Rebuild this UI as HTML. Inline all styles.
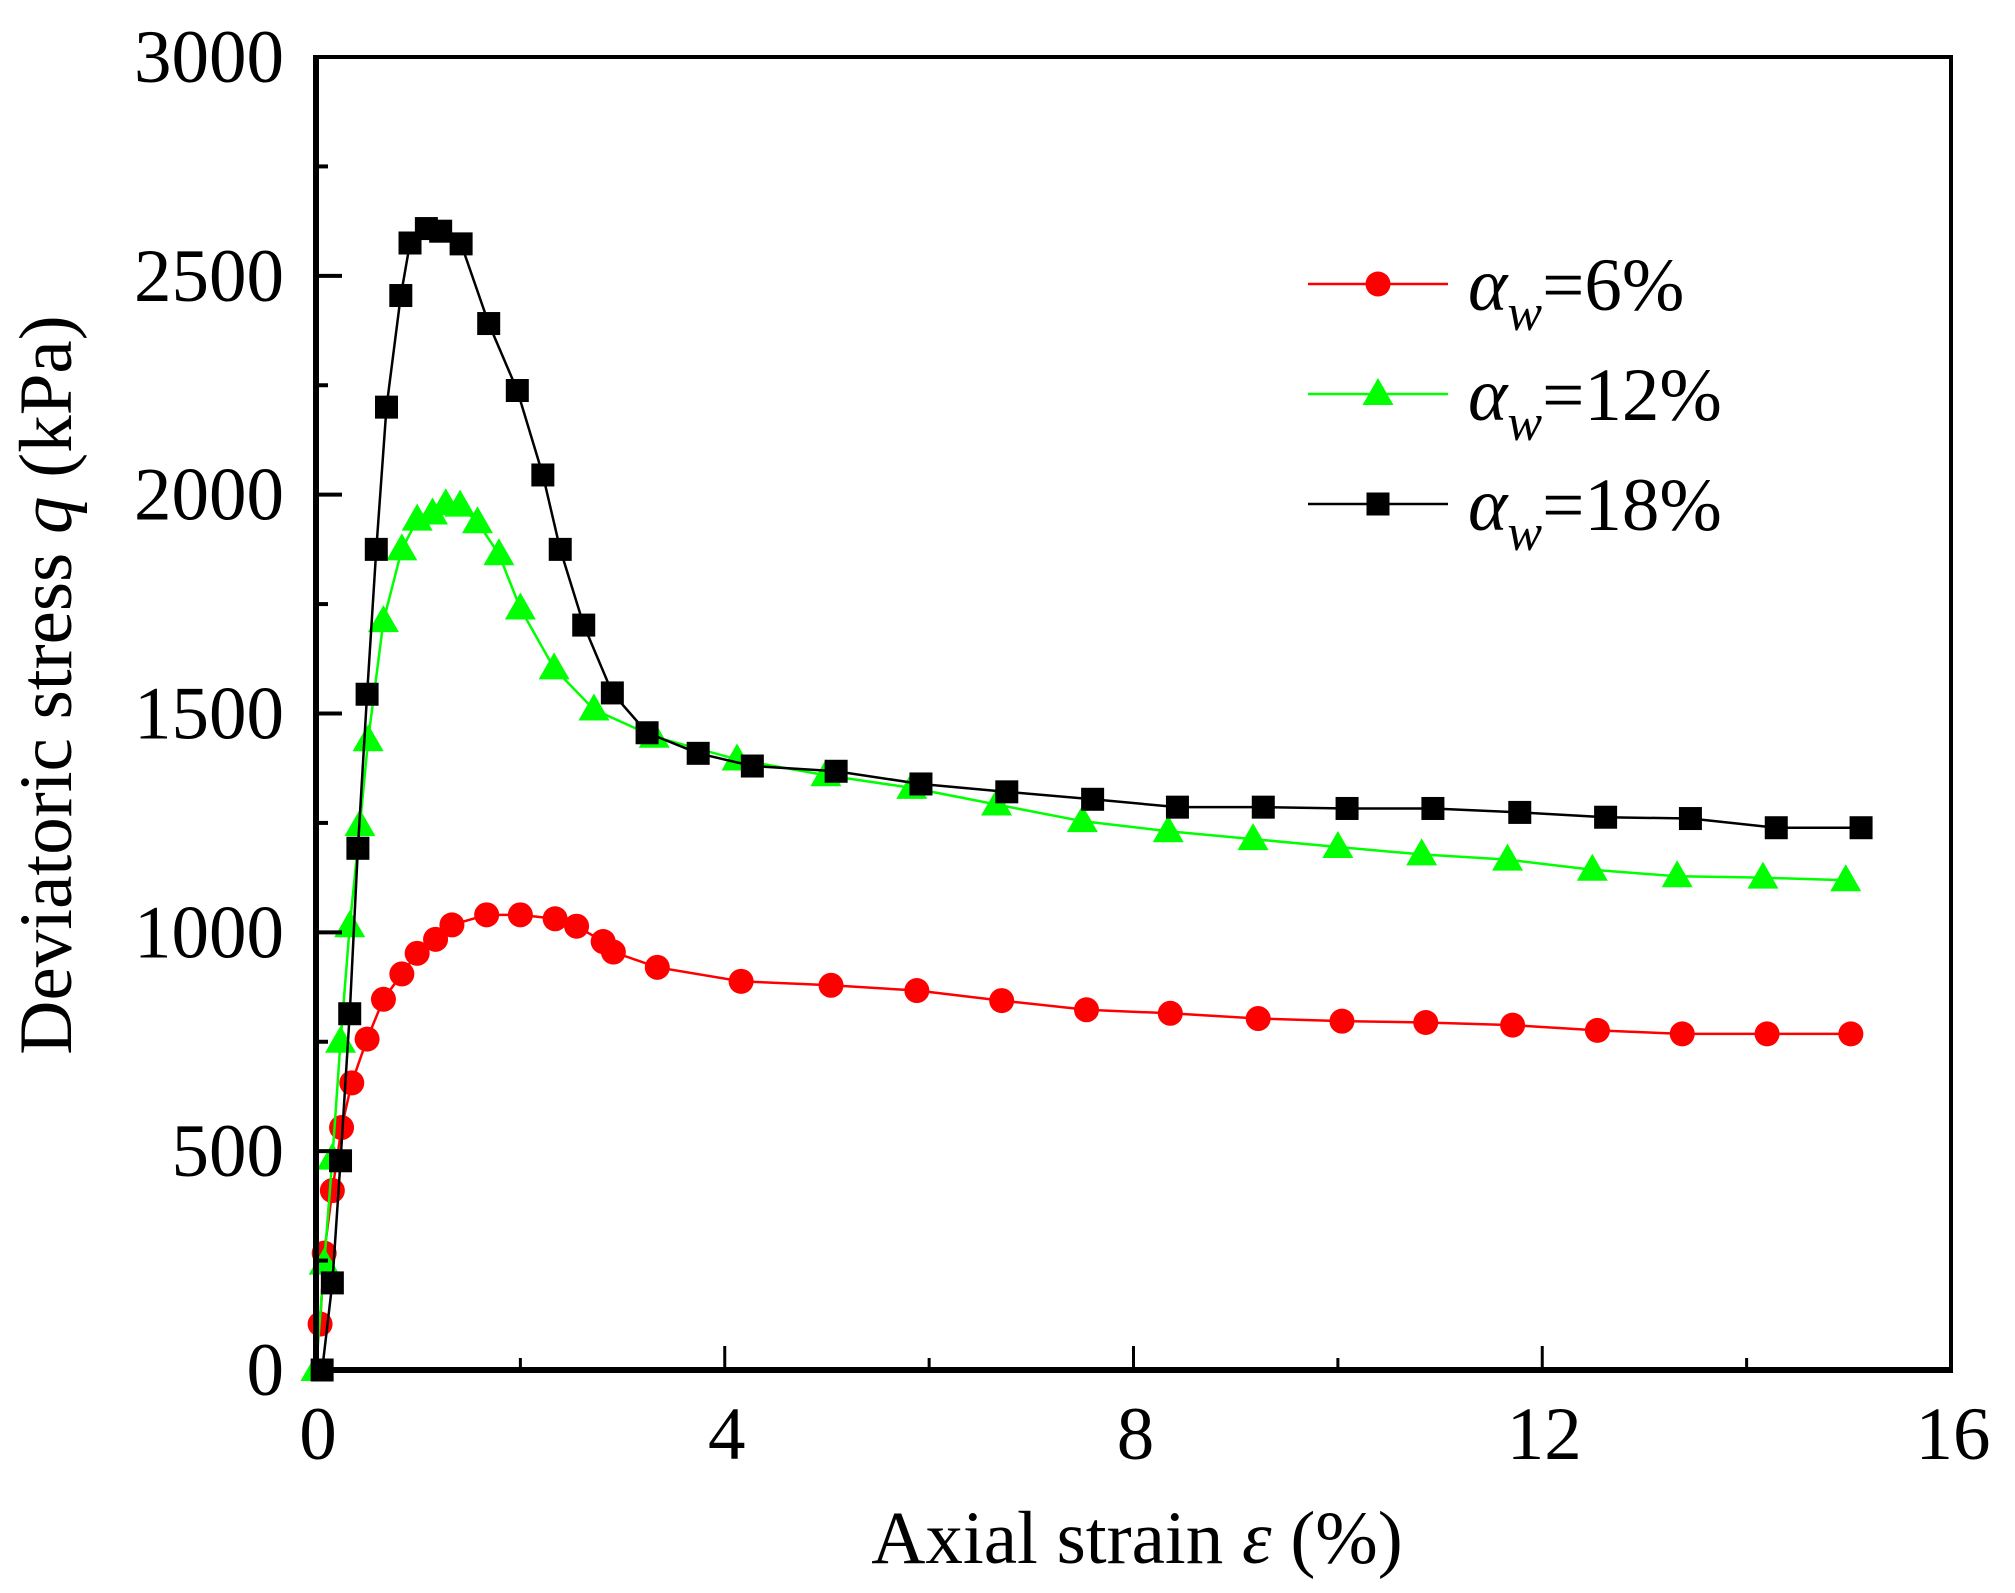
<!DOCTYPE html>
<html><head><meta charset="utf-8"><style>
html,body{margin:0;padding:0;background:#fff;}
svg{display:block;}
svg text, svg tspan{font-family:"Liberation Serif","Noto Serif CJK SC","DejaVu Serif",serif;fill:#000;}
</style></head><body>
<svg id="chart" width="2015" height="1593" viewBox="0 0 2015 1593" xmlns="http://www.w3.org/2000/svg">
<g id="series-layer"></g>
<g id="axes-layer"></g>
<text x="71" y="685" font-size="75" text-anchor="middle" transform="rotate(-90 71 685)">Deviatoric stress <tspan font-style="italic">q</tspan> (kPa)</text>
<text x="1137" y="1563" font-size="75" text-anchor="middle">Axial strain <tspan font-style="italic">ε</tspan> (%)</text>
<g id="legend"></g>
</svg>
<script>
const xTicks = [0, 4, 8, 12, 16];
const yTicks = [0, 500, 1000, 1500, 2000, 2500, 3000];
const seriesNames = ['αw=6%', 'αw=12%', 'αw=18%'];
const legendNums = ['6%', '12%', '18%'];
const x6 = [0.04,0.08,0.16,0.25,0.35,0.5,0.66,0.84,0.99,1.17,1.33,1.67,2.0,2.34,2.55,2.81,2.91,3.34,4.16,5.04,5.88,6.71,7.54,8.36,9.22,10.04,10.86,11.71,12.54,13.37,14.2,15.02];
const y6 = [105,267,410,554,656,756,847,905,952,984,1017,1040,1040,1031,1014,979,955,920,888,879,867,844,823,815,803,797,794,788,776,768,768,768];
const x12 = [0,0.08,0.16,0.24,0.33,0.43,0.51,0.66,0.84,0.99,1.14,1.27,1.41,1.58,1.79,2.0,2.33,2.72,3.31,4.12,4.99,5.83,6.66,7.5,8.34,9.17,10.0,10.82,11.66,12.49,13.32,14.16,14.97];
const y12 = [0,243,483,750,1014,1245,1439,1711,1875,1943,1957,1978,1975,1937,1864,1740,1603,1509,1447,1395,1359,1330,1292,1254,1231,1213,1195,1178,1166,1143,1128,1125,1119];
const x18 = [0.06,0.16,0.24,0.33,0.41,0.5,0.59,0.69,0.83,0.92,1.08,1.22,1.42,1.69,1.97,2.22,2.39,2.62,2.9,3.24,3.74,4.27,5.09,5.92,6.76,7.6,8.43,9.27,10.09,10.93,11.78,12.62,13.45,14.29,15.12];
const y18 = [0,199,478,814,1192,1544,1875,2200,2455,2575,2608,2602,2573,2391,2238,2045,1875,1702,1547,1456,1409,1380,1368,1339,1321,1304,1286,1286,1283,1283,1274,1263,1260,1239,1239];

const NS='http://www.w3.org/2000/svg';
const L=316,R=1951,T=57,B=1370;
function sx(v){return L+(v/16)*(R-L);}
function sy(v){return B-(v/3000)*(B-T);}
function mk(tag,attrs,parent){const e=document.createElementNS(NS,tag);for(const k in attrs)e.setAttribute(k,attrs[k]);parent.appendChild(e);return e;}

const sl=document.getElementById('series-layer');
const ax=document.getElementById('axes-layer');
const lg=document.getElementById('legend');

function marker(type,cx,cy,color,parent,name){
  let e;
  if(type==='circle'){e=mk('circle',{cx:cx,cy:cy,r:12.5,fill:color},parent);}
  else if(type==='tri'){e=mk('polygon',{points:(cx-15.5)+','+(cy+11)+' '+cx+','+(cy-16)+' '+(cx+15.5)+','+(cy+11),fill:color},parent);}
  else {e=mk('rect',{x:cx-11.5,y:cy-11.5,width:23,height:23,fill:color},parent);}
  
  
}
function drawSeries(xs,ys,color,type,name){
  const g=mk('g',{},sl);
  
  
  const pts=xs.map((v,i)=>sx(v)+','+sy(ys[i])).join(' ');
  const pl=mk('polyline',{points:pts,fill:'none',stroke:color,'stroke-width':2.5},g);
  
  
  xs.forEach((v,i)=>marker(type,sx(v),sy(ys[i]),color,g,name+'-point'));
}
drawSeries(x6,y6,'#ff0000','circle','series-6pct');
drawSeries(x12,y12,'#00ff00','tri','series-12pct');
drawSeries(x18,y18,'#000000','square','series-18pct');

const fr=[[L,B,R+2,B,6],[L,T-2,L,B+3,6],[L-3,T,R,T,4],[R,T-2,R,B+3,4]];
fr.forEach(f=>{const e=mk('line',{x1:f[0],y1:f[1],x2:f[2],y2:f[3],stroke:'#000','stroke-width':f[4]},ax);
  
  });
for(let v=0;v<=16;v+=2){
  const major=v%4===0;
  const e=mk('line',{x1:sx(v),y1:B,x2:sx(v),y2:B-(major?24:12),stroke:'#000','stroke-width':3},ax);
  
  
}
xTicks.forEach(v=>{const t=mk('text',{x:sx(v)+2,y:1459,'font-size':75,'text-anchor':'middle'},ax);t.textContent=v;
  
  });
for(let v=0;v<=3000;v+=250){
  const major=v%500===0;
  const e=mk('line',{x1:L,y1:sy(v),x2:L+(major?26:12),y2:sy(v),stroke:'#000','stroke-width':4},ax);
  
  
}
yTicks.forEach(v=>{const t=mk('text',{x:284,y:sy(v)+25,'font-size':75,'text-anchor':'end'},ax);t.textContent=v;
  
  });

const lcol=['#ff0000','#00ff00','#000000'],ltype=['circle','tri','square'],ly=[284,394,504];
seriesNames.forEach((n,i)=>{
  const g=mk('g',{},lg);
  
  
  mk('line',{x1:1308,y1:ly[i],x2:1448,y2:ly[i],stroke:lcol[i],'stroke-width':2.5},g);
  marker(ltype[i],1378,ly[i],lcol[i],g,'legend-marker');
  const t=mk('text',{x:1468,y:ly[i]+26,'font-size':75},g);
  
  
  const a=mk('tspan',{'font-style':'italic'},t);a.textContent='α';
  const w=mk('tspan',{'font-style':'italic','font-size':52,dy:20},t);w.textContent='w';
  const r=mk('tspan',{dy:-20},t);r.textContent='='+legendNums[i];
});
</script>
</body></html>
